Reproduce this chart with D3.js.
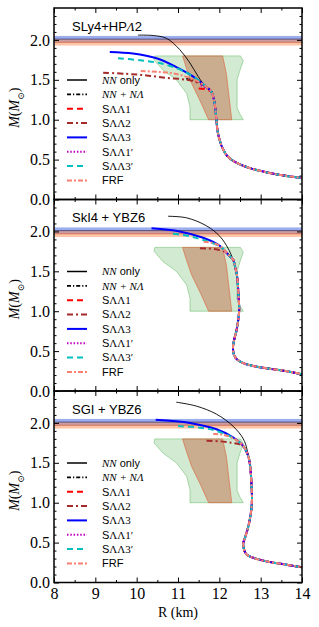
<!DOCTYPE html>
<html>
<head>
<meta charset="utf-8">
<script src="https://cdn.jsdelivr.net/npm/d3@7"></script>
<style>
  body { margin: 0; background: #fff; }
  svg { display: block; }
</style>
</head>
<body>
<div id="chart"></div>
<script>
// axis ticks
const rTicks = [8, 9, 10, 11, 12, 13, 14];
const rMinor = [8.5, 9.5, 10.5, 11.5, 12.5, 13.5];
const mTicks = [0, 0.5, 1.0, 1.5, 2.0];
const mMinor = [0.1, 0.2, 0.3, 0.4, 0.6, 0.7, 0.8, 0.9, 1.1, 1.2, 1.3, 1.4, 1.6, 1.7, 1.8, 1.9, 2.1, 2.2, 2.3];

const panelTitles = ["SLy4+HPΛ2", "SkI4 + YBZ6", "SGI + YBZ6"];
const models = ["NN only", "NN+NΛ", "SΛΛ1", "SΛΛ2", "SΛΛ3", "SΛΛ1'", "SΛΛ3'", "FRF"];

// pulsar mass bands [low, high]
const psrBands = [[1.97, 2.05], [1.93, 2.01]];
const psrCenters = [2.01, 1.97];

// observational M-R regions [R, M]
const greenRegion = [[10.44, 1.80], [12.51, 1.80], [12.58, 1.74], [12.50, 1.62], [12.43, 1.50], [12.43, 1.15], [12.50, 1.07], [12.58, 1.00],
  [11.29, 1.00], [11.29, 1.16], [11.21, 1.33], [10.96, 1.50], [10.64, 1.62], [10.42, 1.75]];
const brownRegion = [[11.11, 1.80], [12.08, 1.80], [12.17, 1.58], [12.30, 1.00], [11.74, 1.00], [11.55, 1.22], [11.33, 1.455], [11.20, 1.65]];

// SLy4 + HPΛ2
const slyCommon = [[11.81, 1.35], [11.87, 1.25], [11.91, 1.10], [11.93, 0.99], [11.96, 0.85], [12.01, 0.74], [12.08, 0.64], [12.2, 0.54], [12.4, 0.465], [12.7, 0.40], [13.06, 0.35], [13.55, 0.30], [14.0, 0.27]];
const slyNN = [[10.03, 2.06], [10.4, 2.055], [10.72, 2.02], [11.04, 1.88], [11.29, 1.71], [11.49, 1.54], [11.69, 1.40]];
const slyNL = [[11.2, 1.515], [11.45, 1.48], [11.65, 1.42]];
const slyS1 = [[11.5, 1.39], [11.65, 1.385], [11.74, 1.37]];
const slyS2 = [[9.19, 1.59], [9.75, 1.575], [10.24, 1.555], [10.72, 1.525], [11.21, 1.50], [11.53, 1.455], [11.72, 1.40]];
const slyS3 = [[9.35, 1.85], [9.91, 1.83], [10.48, 1.77], [10.96, 1.66], [11.37, 1.54], [11.69, 1.41]];
const slyS1p = [[11.55, 1.43], [11.7, 1.40]];
const slyS3p = [[9.55, 1.77], [10.08, 1.745], [10.56, 1.71], [11.04, 1.63], [11.37, 1.54], [11.69, 1.41]];
const slyFRF = [[10.1, 1.61], [10.5, 1.60], [10.9, 1.58], [11.25, 1.53], [11.55, 1.46], [11.72, 1.40]];

// SkI4 + YBZ6
const skiCommon = [[12.33, 1.65], [12.38, 1.56], [12.43, 1.44], [12.46, 1.23], [12.48, 1.02], [12.46, 0.90], [12.42, 0.77], [12.35, 0.62], [12.33, 0.54], [12.35, 0.46], [12.42, 0.40], [12.58, 0.35], [12.85, 0.31], [13.14, 0.285], [13.6, 0.25], [14.0, 0.21]];
const skiNN = [[10.76, 2.19], [11.21, 2.17], [11.69, 2.07], [12.01, 1.94], [12.21, 1.79], [12.30, 1.69]];
const skiNL = [[12.1, 1.77], [12.25, 1.69]];
const skiS1 = [[12.15, 1.75], [12.25, 1.69]];
const skiS2 = [[11.53, 1.79], [11.75, 1.785], [11.97, 1.77], [12.15, 1.74], [12.25, 1.69]];
const skiS3 = [[10.36, 2.04], [11.04, 2.00], [11.61, 1.92], [12.01, 1.82], [12.25, 1.69]];
const skiS1p = [[12.1, 1.77], [12.25, 1.69]];
const skiS3p = [[10.88, 1.97], [11.2, 1.95], [11.5, 1.91], [11.8, 1.86], [12.05, 1.80], [12.25, 1.69]];
const skiFRF = [[11.62, 1.87], [11.8, 1.86], [12.01, 1.82], [12.25, 1.69]];

// SGI + YBZ6
const sgiCommon = [[12.70, 1.585], [12.74, 1.48], [12.76, 1.38], [12.78, 1.2], [12.79, 1.04], [12.76, 0.86], [12.70, 0.70], [12.62, 0.56], [12.58, 0.49], [12.60, 0.41], [12.66, 0.35], [12.82, 0.31], [13.14, 0.265], [13.6, 0.225], [14.0, 0.19]];
const sgiNN = [[10.96, 2.26], [11.45, 2.21], [11.93, 2.11], [12.33, 1.96], [12.58, 1.80], [12.67, 1.67]];
const sgiNL = [[12.4, 1.79], [12.58, 1.71]];
const sgiS1 = [[12.45, 1.77], [12.58, 1.71]];
const sgiS2 = [[11.69, 1.775], [12.0, 1.77], [12.3, 1.75], [12.5, 1.73], [12.62, 1.68]];
const sgiS3 = [[10.46, 2.04], [11.29, 2.00], [11.93, 1.92], [12.33, 1.82], [12.58, 1.71]];
const sgiS1p = [[12.4, 1.79], [12.58, 1.71]];
const sgiS3p = [[11.0, 1.96], [11.53, 1.94], [11.93, 1.90], [12.33, 1.81], [12.58, 1.71]];
const sgiFRF = [[11.85, 1.86], [12.05, 1.855], [12.33, 1.81], [12.58, 1.71]];

const panels = [
  { common: slyCommon, curves: [slyNN, slyNL, slyS1, slyS2, slyS3, slyS1p, slyS3p, slyFRF] },
  { common: skiCommon, curves: [skiNN, skiNL, skiS1, skiS2, skiS3, skiS1p, skiS3p, skiFRF] },
  { common: sgiCommon, curves: [sgiNN, sgiNL, sgiS1, sgiS2, sgiS3, sgiS1p, sgiS3p, sgiFRF] }
];

const styles = [
  { color: "#000000", width: 0.9, dash: null },
  { color: "#000000", width: 1.6, dash: "4,2,1.2,2" },
  { color: "#ff0000", width: 2, dash: "6,4" },
  { color: "#a52a2a", width: 2, dash: "6,3,2,3" },
  { color: "#0000ff", width: 2, dash: null },
  { color: "#bf00bf", width: 2, dash: "1.5,1.8" },
  { color: "#00bfbf", width: 2, dash: "6,4" },
  { color: "#fa8072", width: 2, dash: "5,2,2,2" }
];

const width = 319, height = 627;
const left = 54, right = 302, top0 = 8, panelH = 191.5;
const serif = "'Liberation Serif', 'DejaVu Serif', serif";
const sans = "'Liberation Sans', Arial, sans-serif";

const svg = d3.select("#chart").append("svg")
  .attr("width", width)
  .attr("height", height);

const x = d3.scaleLinear().domain([8, 14]).range([left, right]);

panels.forEach((p, i) => {
  const top = top0 + i * panelH;
  const y = d3.scaleLinear().domain([0, 2.4]).range([top + panelH, top]);
  const g = svg.append("g");

  // pulsar bands
  g.append("rect")
    .attr("x", left).attr("width", right - left)
    .attr("y", y(psrBands[0][1])).attr("height", y(psrBands[0][0]) - y(psrBands[0][1]))
    .attr("fill", "#4a6ae0").attr("opacity", 0.55);
  g.append("rect")
    .attr("x", left).attr("width", right - left)
    .attr("y", y(psrBands[1][1])).attr("height", y(psrBands[1][0]) - y(psrBands[1][1]))
    .attr("fill", "#ff8c50").attr("opacity", 0.5);
  g.append("line")
    .attr("x1", left).attr("x2", right)
    .attr("y1", y(psrCenters[0])).attr("y2", y(psrCenters[0]))
    .attr("stroke", "#303060").attr("stroke-width", 1).attr("opacity", 0.7);
  g.append("line")
    .attr("x1", left).attr("x2", right)
    .attr("y1", y(psrCenters[1])).attr("y2", y(psrCenters[1]))
    .attr("stroke", "#c8502a").attr("stroke-width", 1).attr("opacity", 0.6);

  // M-R regions
  const area = d3.line().x(d => x(d[0])).y(d => y(d[1]));
  g.append("path")
    .attr("d", area(greenRegion) + "Z")
    .attr("fill", "#2ca02c").attr("fill-opacity", 0.22)
    .attr("stroke", "#2ca02c").attr("stroke-opacity", 0.35).attr("stroke-width", 1);
  g.append("path")
    .attr("d", area(brownRegion) + "Z")
    .attr("fill", "#c0502a").attr("fill-opacity", 0.4)
    .attr("stroke", "#e0603a").attr("stroke-opacity", 0.6).attr("stroke-width", 1);

  // M-R curves
  const line = d3.line().x(d => x(d[0])).y(d => y(d[1])).curve(d3.curveCatmullRom.alpha(0.5));
  p.curves.forEach((c, k) => {
    const s = styles[k];
    g.append("path")
      .attr("d", line(c.concat(p.common)))
      .attr("fill", "none")
      .attr("stroke", s.color)
      .attr("stroke-width", s.width)
      .attr("stroke-dasharray", s.dash);
  });

  // axes with inward ticks
  g.append("g").attr("transform", `translate(0,${top + panelH})`)
    .call(d3.axisBottom(x).tickValues(rTicks).tickSize(-5).tickPadding(5)
      .tickFormat(i === 2 ? d3.format("d") : ""));
  g.append("g").attr("transform", `translate(0,${top + panelH})`)
    .call(d3.axisBottom(x).tickValues(rMinor).tickSize(-2.5).tickFormat(""));
  g.append("g").attr("transform", `translate(0,${top})`)
    .call(d3.axisTop(x).tickValues(rTicks).tickSize(-5).tickFormat(""));
  g.append("g").attr("transform", `translate(0,${top})`)
    .call(d3.axisTop(x).tickValues(rMinor).tickSize(-2.5).tickFormat(""));
  g.append("g").attr("transform", `translate(${left},0)`)
    .call(d3.axisLeft(y).tickValues(mTicks).tickSize(-5).tickPadding(4).tickFormat(d3.format(".1f")));
  g.append("g").attr("transform", `translate(${left},0)`)
    .call(d3.axisLeft(y).tickValues(mMinor).tickSize(-2.5).tickFormat(""));
  g.append("g").attr("transform", `translate(${right},0)`)
    .call(d3.axisRight(y).tickValues(mTicks).tickSize(-5).tickFormat(""));
  g.append("g").attr("transform", `translate(${right},0)`)
    .call(d3.axisRight(y).tickValues(mMinor).tickSize(-2.5).tickFormat(""));

  g.selectAll(".domain").remove();
  g.selectAll(".tick line").attr("stroke", "#000").attr("stroke-width", 1);
  g.selectAll(".tick text")
    .style("font-family", serif)
    .style("font-size", "16px")
    .attr("fill", "#000");

  g.append("rect")
    .attr("x", left).attr("y", top)
    .attr("width", right - left).attr("height", panelH)
    .attr("fill", "none").attr("stroke", "#000").attr("stroke-width", 1.5);

  // panel title
  const title = g.append("text")
    .attr("x", 72).attr("y", top + 22.5)
    .style("font-family", sans).style("font-size", "13px");
  if (i === 0) {
    title.append("tspan").text("SLy4+HP");
    title.append("tspan").style("font-family", serif).style("font-style", "italic").text("Λ");
    title.append("tspan").text("2");
  } else {
    title.text(panelTitles[i]);
  }

  // y label
  const yl = g.append("text")
    .attr("transform", `translate(19,${top + panelH / 2 + 4}) rotate(-90)`)
    .attr("text-anchor", "middle")
    .style("font-family", serif).style("font-size", "14px");
  yl.append("tspan").style("font-style", "italic").text("M");
  yl.append("tspan").text("(");
  yl.append("tspan").style("font-style", "italic").text("M");
  yl.append("tspan").attr("baseline-shift", "sub").style("font-size", "9px").text("⊙");
  yl.append("tspan").text(")");

  // legend
  const leg = g.append("g");
  models.forEach((m, k) => {
    const ly = top + 72 + k * 14.35;
    const s = styles[k];
    leg.append("line")
      .attr("x1", 67).attr("x2", 87).attr("y1", ly).attr("y2", ly)
      .attr("stroke", s.color)
      .attr("stroke-width", k === 0 ? 1.5 : s.width)
      .attr("stroke-dasharray", s.dash);
    const t = leg.append("text")
      .attr("x", 102).attr("y", ly).attr("dy", "0.35em")
      .style("font-size", "11px").style("font-family", sans);
    if (k === 0) {
      t.append("tspan").style("font-family", serif).style("font-style", "italic").text("NN");
      t.append("tspan").text(" only");
    } else if (k === 1) {
      t.append("tspan").style("font-family", serif).style("font-style", "italic").text("NN + NΛ");
    } else if (m === "FRF") {
      t.text("FRF");
    } else {
      t.append("tspan").text("S");
      t.append("tspan").style("font-family", serif).text(m.slice(1).replace("'", "′"));
    }
  });
});

// x label
svg.append("text")
  .attr("x", 178).attr("y", 617)
  .attr("text-anchor", "middle")
  .style("font-family", serif).style("font-size", "14px")
  .text("R (km)");
</script>
</body>
</html>
